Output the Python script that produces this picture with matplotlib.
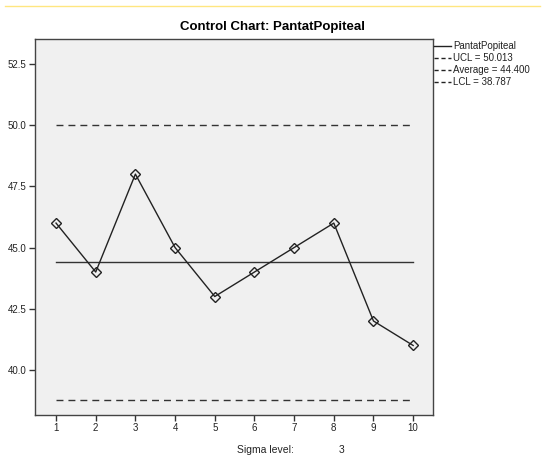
import numpy as np
import matplotlib.pyplot as plt
from matplotlib.lines import Line2D

plt.rcParams['font.family'] = ['Liberation Sans', 'DejaVu Sans']

# data
samples = [1, 2, 3, 4, 5, 6, 7, 8, 9, 10]
values = [46, 44, 48, 45, 43, 44, 45, 46, 42, 41]
ucl = 50.013
avg = 44.400
lcl = 38.787
sigma = 3
yticks = [40.0, 42.5, 45.0, 47.5, 50.0, 52.5]

fig = plt.figure(figsize=(5.46, 4.61), dpi=100)
fig.patch.set_facecolor('white')
ax = fig.add_axes([35/546, 1-415/461, (433-35)/546, (415-39)/461])
ax.set_facecolor('#f0f0f0')

dash = (0, (5, 3.6))
ax.plot(samples, values, color='#222222', lw=1.0, marker='D', ms=5.5,
        mfc='none', mec='#222222', mew=1.0, zorder=3)
ax.plot([samples[0], samples[-1]], [ucl, ucl], color='#333333', lw=1.0, ls=dash)
ax.plot([samples[0], samples[-1]], [avg, avg], color='#333333', lw=1.0)
ax.plot([samples[0], samples[-1]], [lcl, lcl], color='#333333', lw=1.0, ls=dash)

ax.set_xlim(0.47, 10.5)
ax.set_ylim(38.16, 53.52)
ax.set_xticks(samples)
ax.set_xticklabels([str(s) for s in samples])
ax.set_yticks(yticks)
ax.set_yticklabels(['{:.1f}'.format(t) for t in yticks])
ax.tick_params(labelsize=7, length=4, width=1, color='#333333', labelcolor='#222222', pad=2)
for s in ax.spines.values():
    s.set_color('#444444')
    s.set_linewidth(1.0)

fig.text(0.5, 1-27/461, 'Control Chart: PantatPopiteal', ha='center', va='center',
         fontsize=9.5, fontweight='bold')
fig.text(237/546, 1-450/461, 'Sigma level:', ha='left', va='center', fontsize=7.5, color='#222222')
fig.text(339/546, 1-450/461, str(sigma), ha='left', va='center', fontsize=7.5, color='#222222')

# yellow line on top
fig.add_artist(Line2D([5/546, 540/546], [1-6/461, 1-6/461], color='#ffe680', lw=1.0))

# legend drawn by hand at the right
labels = ['PantatPopiteal', 'UCL = {:.3f}'.format(ucl),
          'Average = {:.3f}'.format(avg), 'LCL = {:.3f}'.format(lcl)]
styles = ['-', (0, (3, 2)), (0, (3, 2)), (0, (3, 2))]
for i, (lab, st) in enumerate(zip(labels, styles)):
    y = 1 - (46 + 12*i)/461
    fig.add_artist(Line2D([434/546, 451/546], [y, y], color='#222222', lw=1.0, ls=st))
    fig.text(453/546, y, lab, ha='left', va='center', fontsize=7, color='#222222')

plt.savefig('out.png', dpi=100)
